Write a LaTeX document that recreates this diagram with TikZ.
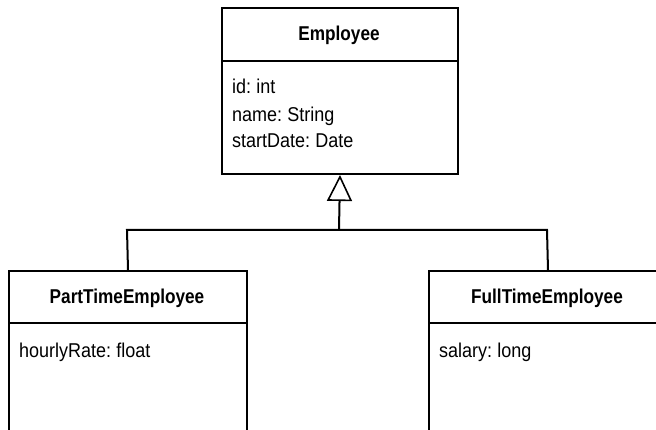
\documentclass[tikz,border=0pt]{standalone}
\usepackage{fontspec}
\setmainfont{Liberation Sans}[FakeStretch=0.9,WordSpace=0.7]
\newfontfamily\headfont{Liberation Sans}[FakeStretch=0.86]
\usetikzlibrary{arrows.meta}
\begin{document}
\begin{tikzpicture}[x=1pt,y=-1pt,
  classbox/.style={draw,line width=2pt,inner sep=0pt,anchor=north west},
  title/.style={font=\headfont\bfseries\fontsize{20}{24}\selectfont,anchor=base,inner sep=0pt},
  attr/.style={font=\fontsize{20}{24}\selectfont,anchor=base west,inner sep=0pt},
  link/.style={line width=2pt},
]
\useasboundingbox (0,0) rectangle (656,430);
\clip (0,0) rectangle (656,430);
% Employee
\node[classbox,minimum width=236pt,minimum height=166pt] (emp) at (221,7) {};
\draw[link] (221,61) coordinate (e1) -- (457,61) coordinate (e2);
\node[title] (empt) at (339,41) {Employee};
\node[attr] (a1) at (232,94) {id: int};
\node[attr] (a2) at (232,122) {name: String};
\node[attr] (a3) at (232,148) {startDate: Date};
% PartTimeEmployee
\node[classbox,minimum width=238pt,minimum height=200pt] (pt) at (8,270) {};
\draw[link] (8,323) coordinate (p1) -- (246,323) coordinate (p2);
\node[title] (ptt) at (127,304) {PartTimeEmployee};
\node[attr] (b1) at (19,357) {hourlyRate: float};
% FullTimeEmployee
\node[classbox,minimum width=238pt,minimum height=200pt] (ft) at (428,270) {};
\draw[link] (428,323) coordinate (f1) -- (666,323) coordinate (f2);
\node[title] (ftt) at (547,304) {FullTimeEmployee};
\node[attr] (c1) at (439,357) {salary: long};
% Generalization
\coordinate (j) at (339,230);
\coordinate (jl) at (127,230);
\coordinate (jr) at (547,230);
\draw[link,-{Triangle[open,length=26pt,width=25pt,line width=1.6pt]}] (j) -- (emp.south);
\draw[link] (pt.north) -- (jl) -- (jr) -- (ft.north);
\end{tikzpicture}
\end{document}
